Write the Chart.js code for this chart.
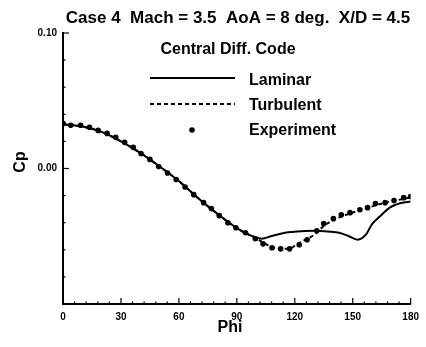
<!DOCTYPE html>
<html>
<head>
<meta charset="utf-8">
<title>Case 4 Cp vs Phi</title>
<script src="https://cdn.jsdelivr.net/npm/chart.js@4.4.0/dist/chart.umd.min.js"></script>
<style>
  html, body { margin: 0; padding: 0; background: #fff; }
  #wrap { width: 426px; height: 347px; position: relative; }
</style>
</head>
<body>
<div id="wrap"><canvas id="cpChart" width="426" height="347"></canvas></div>
<script>
// --- data ---
const chartTitle = 'Case 4  Mach = 3.5  AoA = 8 deg.  X/D = 4.5';
const legendTitle = 'Central Diff. Code';
const seriesNames = ['Laminar', 'Turbulent', 'Experiment'];

const xTicks = [0, 30, 60, 90, 120, 150, 180];
const yTicks = [0.10, 0.00];

const laminarPhi = [0, 10, 20, 30, 40, 50, 60, 70, 80, 90, 95, 100, 103, 108, 115, 120, 125, 131, 137, 143, 148, 152.5, 157, 160, 164, 169, 175, 180];
const laminarCp = [0.0326, 0.0310, 0.0270, 0.0200, 0.0115, 0.0015, -0.0093, -0.0220, -0.0335, -0.0440, -0.0480, -0.0508, -0.0518, -0.0498, -0.0474, -0.0467, -0.0461, -0.0459, -0.0465, -0.0474, -0.0500, -0.0526, -0.0485, -0.0410, -0.0355, -0.0290, -0.0255, -0.0244];

const turbPhi = [0, 10, 20, 30, 40, 50, 60, 70, 80, 90, 95, 100, 104, 108, 112, 117, 121, 126, 130, 135, 140, 144, 148, 153, 158, 163, 167, 172, 177, 180];
const turbCp = [0.0326, 0.0310, 0.0270, 0.0200, 0.0115, 0.0015, -0.0093, -0.0220, -0.0335, -0.0440, -0.0480, -0.0515, -0.0550, -0.0578, -0.0592, -0.0593, -0.0560, -0.0522, -0.0490, -0.0425, -0.0380, -0.0356, -0.0335, -0.0311, -0.0289, -0.0267, -0.0252, -0.0237, -0.0222, -0.0212];

const expPhi = [0, 4, 9.1, 13.7, 18.2, 22.8, 27.3, 31.9, 36.4, 40.4, 45, 49.5, 54.1, 58.6, 63.2, 67.7, 72.8, 76.8, 80.9, 85.4, 89.5, 94.5, 99.6, 103.6, 108.2, 112.7, 117.3, 122.3, 126.4, 131.4, 135, 140, 144.1, 148.6, 153.7, 157.7, 161.8, 166.8, 171.4, 176.4, 180];
const expCp = [0.0333, 0.0319, 0.0319, 0.0304, 0.0281, 0.0259, 0.0230, 0.0193, 0.0156, 0.0111, 0.0067, 0.0015, -0.0033, -0.0081, -0.0137, -0.0193, -0.0252, -0.0296, -0.0348, -0.0400, -0.0437, -0.0474, -0.0519, -0.0556, -0.0585, -0.0593, -0.0593, -0.0563, -0.0526, -0.0459, -0.0407, -0.0370, -0.0341, -0.0326, -0.0304, -0.0289, -0.0259, -0.0252, -0.0237, -0.0215, -0.0207];

const FONT = '"Liberation Sans", Arial, Helvetica, sans-serif';

function toPoints(xs, ys) {
    return xs.map((x, i) => ({x: x, y: ys[i]}));
}

// inward tick marks, legend block and text labels
const decorPlugin = {
    id: 'decor',
    afterDraw: function(chart) {
        const ctx = chart.ctx;
        const xs = chart.scales.x;
        const ys = chart.scales.y;
        const area = chart.chartArea;
        ctx.save();
        ctx.strokeStyle = '#000';
        ctx.fillStyle = '#000';

        // x ticks, minor every 6 deg
        ctx.lineWidth = 1.2;
        for (let v = 0; v <= 180; v += 6) {
            const px = xs.getPixelForValue(v);
            const len = xTicks.indexOf(v) >= 0 ? 6 : 2.5;
            ctx.beginPath();
            ctx.moveTo(px, area.bottom);
            ctx.lineTo(px, area.bottom - len);
            ctx.stroke();
        }
        // y ticks, minor every 0.02
        for (let i = -5; i <= 5; i++) {
            const v = i * 0.02;
            const py = ys.getPixelForValue(v);
            const len = (i % 5 === 0) ? 6 : 2.5;
            ctx.beginPath();
            ctx.moveTo(area.left, py);
            ctx.lineTo(area.left + len, py);
            ctx.stroke();
        }

        // title
        ctx.textAlign = 'center';
        ctx.textBaseline = 'middle';
        ctx.font = 'bold 17px ' + FONT;
        ctx.fillText(chartTitle, 238, 18);

        // legend
        ctx.font = 'bold 16px ' + FONT;
        ctx.fillText(legendTitle, 228, 50);
        ctx.textAlign = 'left';
        ctx.fillText(seriesNames[0], 249, 81);
        ctx.fillText(seriesNames[1], 249, 106);
        ctx.fillText(seriesNames[2], 249, 131);

        ctx.lineWidth = 2;
        ctx.beginPath();
        ctx.moveTo(150, 78);
        ctx.lineTo(235, 78);
        ctx.stroke();
        ctx.setLineDash([4, 3]);
        ctx.beginPath();
        ctx.moveTo(150, 104);
        ctx.lineTo(235, 104);
        ctx.stroke();
        ctx.setLineDash([]);
        ctx.beginPath();
        ctx.arc(192, 130, 2.8, 0, Math.PI * 2);
        ctx.fill();

        // axis titles
        ctx.textAlign = 'center';
        ctx.font = 'bold 16px ' + FONT;
        ctx.fillText('Phi', 230, 328);
        ctx.translate(21, 162);
        ctx.rotate(-Math.PI / 2);
        ctx.fillText('Cp', 0, 0);
        ctx.restore();
    }
};

const ctx = document.getElementById('cpChart').getContext('2d');
new Chart(ctx, {
    type: 'line',
    data: {
        datasets: [{
            label: seriesNames[0],
            data: toPoints(laminarPhi, laminarCp),
            borderColor: '#000',
            borderWidth: 2,
            pointRadius: 0,
            cubicInterpolationMode: 'monotone',
            fill: false
        }, {
            label: seriesNames[1],
            data: toPoints(turbPhi, turbCp),
            borderColor: '#000',
            borderWidth: 2,
            borderDash: [4, 3],
            pointRadius: 0,
            cubicInterpolationMode: 'monotone',
            fill: false
        }, {
            label: seriesNames[2],
            data: toPoints(expPhi, expCp),
            showLine: false,
            pointRadius: 2.8,
            pointBackgroundColor: '#000',
            pointBorderWidth: 0,
            borderColor: '#000'
        }]
    },
    options: {
        responsive: false,
        animation: false,
        layout: {
            padding: {left: 0, right: 7, top: 33, bottom: 0}
        },
        plugins: {
            legend: {display: false},
            title: {display: false},
            tooltip: {enabled: false}
        },
        scales: {
            x: {
                type: 'linear',
                min: 0,
                max: 180,
                afterFit: function(scale) { scale.height = 43; },
                afterBuildTicks: function(scale) {
                    scale.ticks = xTicks.map(v => ({value: v}));
                },
                border: {display: true, color: '#000', width: 2},
                grid: {drawOnChartArea: false, drawTicks: false},
                ticks: {
                    padding: 7,
                    maxRotation: 0,
                    autoSkip: false,
                    color: '#000',
                    font: {family: FONT, size: 10, weight: 'bold'},
                    callback: v => String(v)
                }
            },
            y: {
                min: -0.1,
                max: 0.1,
                afterFit: function(scale) { scale.width = 63; },
                afterBuildTicks: function(scale) {
                    scale.ticks = yTicks.map(v => ({value: v}));
                },
                border: {display: true, color: '#000', width: 2},
                grid: {drawOnChartArea: false, drawTicks: false},
                ticks: {
                    padding: 6,
                    color: '#000',
                    font: {family: FONT, size: 10, weight: 'bold'},
                    callback: v => v.toFixed(2)
                }
            }
        }
    },
    plugins: [decorPlugin]
});
</script>
</body>
</html>
